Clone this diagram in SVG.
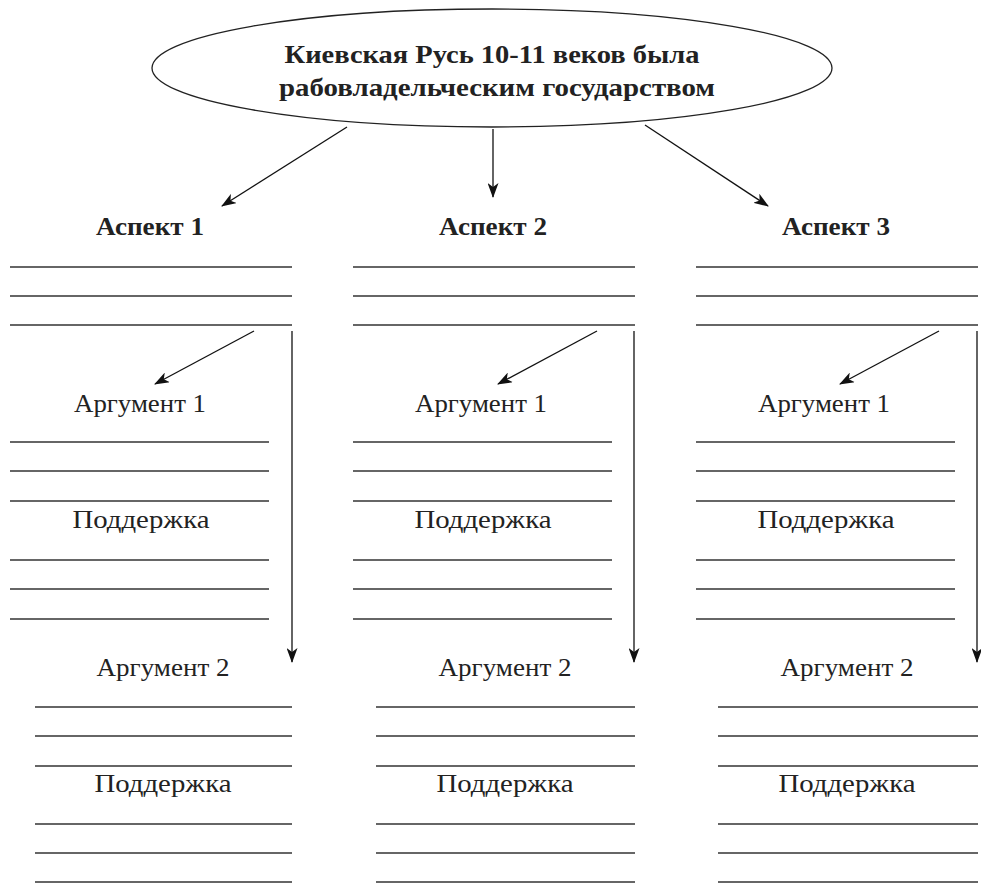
<svg xmlns="http://www.w3.org/2000/svg" width="981" height="883" viewBox="0 0 981 883">
<defs>
<marker id="ah" markerWidth="15" markerHeight="11" refX="14" refY="5.5" orient="auto" markerUnits="userSpaceOnUse">
<path d="M0,0 L15,5.5 L0,11 L4,5.5 z" fill="#111"/>
</marker>
<style>
.t{font-family:"Liberation Serif","DejaVu Serif",serif;fill:#222;text-anchor:middle}
.b{font-weight:bold;font-size:26px}
.r{font-size:26px}
.ln{stroke:#333;stroke-width:1.5}
.ar{stroke:#111;stroke-width:1.3;fill:none;marker-end:url(#ah)}
</style>
</defs>
<rect width="981" height="883" fill="#fff"/>
<g id="root">
<ellipse cx="492" cy="68" rx="340" ry="59" fill="#fff" stroke="#222" stroke-width="1.3"/>
<text class="t b" x="492" y="63" textLength="415" lengthAdjust="spacingAndGlyphs">Киевская Русь 10-11 веков была</text>
<text class="t b" x="497" y="96" textLength="436" lengthAdjust="spacingAndGlyphs">рабовладельческим государством</text>
</g>
<g id="connectors">
<line class="ar" x1="347" y1="127" x2="222" y2="206"/>
<line class="ar" x1="493" y1="129" x2="493" y2="197"/>
<line class="ar" x1="645" y1="125" x2="768" y2="206"/>
<line class="ar" x1="292" y1="331" x2="292" y2="662"/>
<line class="ar" x1="634" y1="331" x2="634" y2="662"/>
<line class="ar" x1="977" y1="331" x2="977" y2="662"/>
<line class="ar" x1="254" y1="331" x2="155" y2="384"/>
<line class="ar" x1="597" y1="331" x2="498" y2="384"/>
<line class="ar" x1="939" y1="331" x2="840" y2="384"/>
</g>
<g id="aspect1">
<text class="t b" x="150" y="235" textLength="108" lengthAdjust="spacingAndGlyphs">Аспект 1</text>
<line class="ln" x1="10" y1="267" x2="292" y2="267"/>
<line class="ln" x1="10" y1="296" x2="292" y2="296"/>
<line class="ln" x1="10" y1="325" x2="292" y2="325"/>
</g>
<g id="aspect2">
<text class="t b" x="493" y="235" textLength="108" lengthAdjust="spacingAndGlyphs">Аспект 2</text>
<line class="ln" x1="353" y1="267" x2="635" y2="267"/>
<line class="ln" x1="353" y1="296" x2="635" y2="296"/>
<line class="ln" x1="353" y1="325" x2="635" y2="325"/>
</g>
<g id="aspect3">
<text class="t b" x="836" y="235" textLength="108" lengthAdjust="spacingAndGlyphs">Аспект 3</text>
<line class="ln" x1="696" y1="267" x2="978" y2="267"/>
<line class="ln" x1="696" y1="296" x2="978" y2="296"/>
<line class="ln" x1="696" y1="325" x2="978" y2="325"/>
</g>
<g id="arg1-col1">
<text class="t r" x="140" y="412" textLength="132" lengthAdjust="spacingAndGlyphs">Аргумент 1</text>
<line class="ln" x1="10" y1="442" x2="269" y2="442"/>
<line class="ln" x1="10" y1="471" x2="269" y2="471"/>
<line class="ln" x1="10" y1="501" x2="269" y2="501"/>
<text class="t r" x="141" y="528" textLength="137" lengthAdjust="spacingAndGlyphs">Поддержка</text>
<line class="ln" x1="10" y1="560" x2="269" y2="560"/>
<line class="ln" x1="10" y1="589" x2="269" y2="589"/>
<line class="ln" x1="10" y1="619" x2="269" y2="619"/>
</g>
<g id="arg1-col2">
<text class="t r" x="481" y="412" textLength="132" lengthAdjust="spacingAndGlyphs">Аргумент 1</text>
<line class="ln" x1="353" y1="442" x2="612" y2="442"/>
<line class="ln" x1="353" y1="471" x2="612" y2="471"/>
<line class="ln" x1="353" y1="501" x2="612" y2="501"/>
<text class="t r" x="483" y="528" textLength="137" lengthAdjust="spacingAndGlyphs">Поддержка</text>
<line class="ln" x1="353" y1="560" x2="612" y2="560"/>
<line class="ln" x1="353" y1="589" x2="612" y2="589"/>
<line class="ln" x1="353" y1="619" x2="612" y2="619"/>
</g>
<g id="arg1-col3">
<text class="t r" x="824" y="412" textLength="132" lengthAdjust="spacingAndGlyphs">Аргумент 1</text>
<line class="ln" x1="696" y1="442" x2="955" y2="442"/>
<line class="ln" x1="696" y1="471" x2="955" y2="471"/>
<line class="ln" x1="696" y1="501" x2="955" y2="501"/>
<text class="t r" x="826" y="528" textLength="137" lengthAdjust="spacingAndGlyphs">Поддержка</text>
<line class="ln" x1="696" y1="560" x2="955" y2="560"/>
<line class="ln" x1="696" y1="589" x2="955" y2="589"/>
<line class="ln" x1="696" y1="619" x2="955" y2="619"/>
</g>
<g id="arg2-col1">
<text class="t r" x="163" y="676" textLength="133" lengthAdjust="spacingAndGlyphs">Аргумент 2</text>
<line class="ln" x1="35" y1="707" x2="292" y2="707"/>
<line class="ln" x1="35" y1="736" x2="292" y2="736"/>
<line class="ln" x1="35" y1="766" x2="292" y2="766"/>
<text class="t r" x="163" y="792" textLength="137" lengthAdjust="spacingAndGlyphs">Поддержка</text>
<line class="ln" x1="35" y1="824" x2="292" y2="824"/>
<line class="ln" x1="35" y1="853" x2="292" y2="853"/>
<line class="ln" x1="35" y1="882" x2="292" y2="882"/>
</g>
<g id="arg2-col2">
<text class="t r" x="505" y="676" textLength="133" lengthAdjust="spacingAndGlyphs">Аргумент 2</text>
<line class="ln" x1="376" y1="707" x2="635" y2="707"/>
<line class="ln" x1="376" y1="736" x2="635" y2="736"/>
<line class="ln" x1="376" y1="766" x2="635" y2="766"/>
<text class="t r" x="505" y="792" textLength="137" lengthAdjust="spacingAndGlyphs">Поддержка</text>
<line class="ln" x1="376" y1="824" x2="635" y2="824"/>
<line class="ln" x1="376" y1="853" x2="635" y2="853"/>
<line class="ln" x1="376" y1="882" x2="635" y2="882"/>
</g>
<g id="arg2-col3">
<text class="t r" x="847" y="676" textLength="133" lengthAdjust="spacingAndGlyphs">Аргумент 2</text>
<line class="ln" x1="718" y1="707" x2="978" y2="707"/>
<line class="ln" x1="718" y1="736" x2="978" y2="736"/>
<line class="ln" x1="718" y1="766" x2="978" y2="766"/>
<text class="t r" x="847" y="792" textLength="137" lengthAdjust="spacingAndGlyphs">Поддержка</text>
<line class="ln" x1="718" y1="824" x2="978" y2="824"/>
<line class="ln" x1="718" y1="853" x2="978" y2="853"/>
<line class="ln" x1="718" y1="882" x2="978" y2="882"/>
</g>
</svg>
